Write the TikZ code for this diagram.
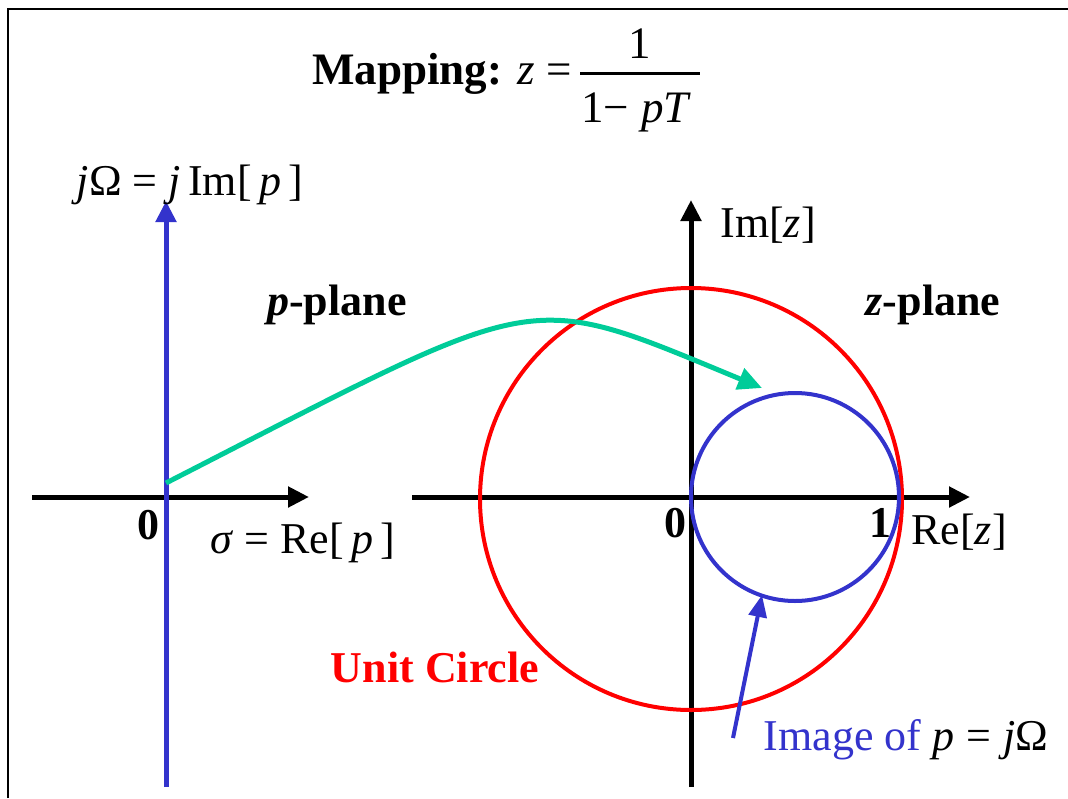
\documentclass[tikz,border=0pt]{standalone}
\usepackage{fontspec}
\setmainfont{Liberation Serif}
\usepackage{tikz}
\usetikzlibrary{arrows.meta}
\definecolor{axisblue}{RGB}{51,51,204}
\definecolor{mapgreen}{RGB}{0,204,153}
\definecolor{unitred}{RGB}{255,0,0}
\newcommand{\lblsize}{\fontsize{44}{52}\selectfont}
\newcommand{\ttlsize}{\fontsize{45}{54}\selectfont}
\tikzset{
  axisline/.style={line width=5pt,-{Triangle[length=21pt,width=20pt]}},
  lbl/.style={font=\lblsize,inner sep=0pt},
  ttl/.style={font=\ttlsize,inner sep=0pt},
}

\begin{document}
\begin{tikzpicture}[x=1pt,y=-1pt]
\useasboundingbox (0,0) rectangle (1068,798);
\draw[line width=2pt] (8,798) -- (8,9) -- (1068,9);
% title
\node[ttl,anchor=base west] (title) at (312,84) {\textbf{Mapping:} \textit{z} =};
\node[ttl,anchor=base] (num) at (640,58) {1};
\node[ttl,anchor=base west] (den) at (581,122) {1−\hspace{12pt}\textit{pT}};
\draw[line width=3pt] (580,73) -- (700,73);
% p-plane
\draw[axisline] (32,497) -- (309,497);
\draw[axisline,axisblue] (166,787) -- (166,201);
\node[lbl] (jomega) at (190,185) {\textit{j}Ω = \textit{j}\,Im[\,\textit{p}\,]};
\node[lbl] (pzero) at (148,525) {\textbf{0}};
\node[lbl] (sigma) at (303,543) {\textit{σ} = Re[\,\textit{p}\,]};
\node[lbl] (pplane) at (337,305) {\textbf{\textit{p}-plane}};
% z-plane
\draw[axisline] (412,497) -- (970,497);
\draw[axisline] (691,787) -- (691,200);
\draw[unitred,line width=4pt] (691,499) circle[radius=211];
\draw[axisblue,line width=4pt] (795,497) circle[radius=104];
\node[lbl] (imz) at (768,225) {Im[\textit{z}]};
\node[lbl] (zplane) at (933,305) {\textbf{\textit{z}-plane}};
\node[lbl] (zzero) at (675,523) {\textbf{0}};
\node[lbl] (zone) at (880,523) {\textbf{1}};
\node[lbl] (rez) at (959,532) {Re[\textit{z}]};
\node[lbl,text=unitred] (unitc) at (435,667) {\textbf{Unit Circle}};
\node[lbl] (image) at (906,740) {\textcolor{axisblue}{Image of} \textit{p}\;=\;\textit{j}Ω};
% connectors
\coordinate (pstart) at (166,483);
\coordinate (ztip) at (762,388);
\coordinate (imtail) at (733,738);
\coordinate (imtip) at (762,595);
\draw[mapgreen,line width=5pt,-{Triangle[length=24pt,width=22pt]}]
  (pstart) .. controls (547,288) and (520,288) .. (ztip);
\draw[axisblue,line width=4pt,-{Triangle[length=22pt,width=18pt]}] (imtail) -- (imtip);
\end{tikzpicture}
\end{document}
